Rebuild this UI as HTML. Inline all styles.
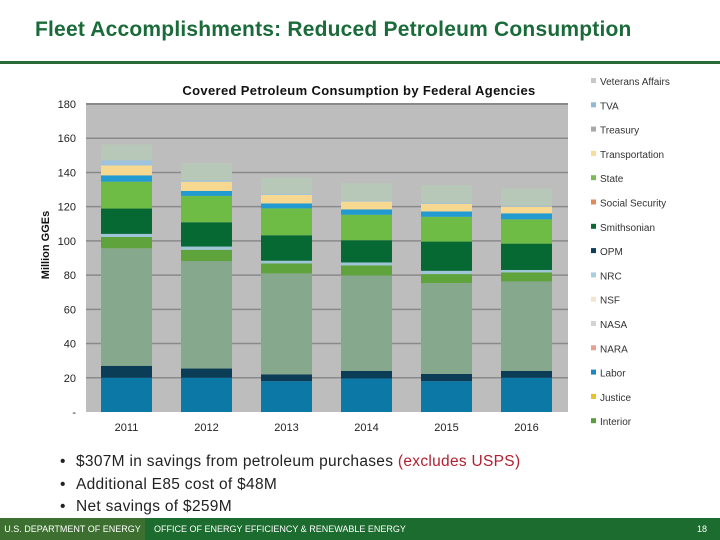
<!DOCTYPE html>
<html><head><meta charset="utf-8"><style>
body{margin:0;width:720px;height:540px;background:#fff;position:relative;overflow:hidden;font-family:"Liberation Sans",sans-serif}
.abs{position:absolute}
</style></head><body>
<div class="abs" style="left:35px;top:18px;font-size:21px;font-weight:bold;color:#1b6b3a;letter-spacing:0.2px;white-space:nowrap">Fleet Accomplishments: Reduced Petroleum Consumption</div>
<div class="abs" style="left:0;top:61px;width:720px;height:3px;background:#2a6a36"></div>
<svg class="abs" style="left:0;top:0" width="720" height="450">
<g id="g"></g>
</svg>
<div class="abs" style="left:60px;top:451px;font-size:15.5px;color:#222;line-height:22.5px;letter-spacing:0.3px;white-space:nowrap">
<div><span style="display:inline-block;width:16px">•</span>$307M in savings from petroleum purchases <span style="color:#b02030">(excludes USPS)</span></div>
<div><span style="display:inline-block;width:16px">•</span>Additional E85 cost of $48M</div>
<div><span style="display:inline-block;width:16px">•</span>Net savings of $259M</div>
</div>
<div class="abs" style="left:0;top:518px;width:145px;height:22px;background:#3d7030;color:#fff;font-size:9px;line-height:22px;text-align:center">U.S. DEPARTMENT OF ENERGY</div>
<div class="abs" style="left:145px;top:518px;width:575px;height:22px;background:#1c6b2f;color:#fff;font-size:9px;line-height:22px"><span style="margin-left:9px">OFFICE OF ENERGY EFFICIENCY &amp; RENEWABLE ENERGY</span><span style="position:absolute;right:13px">18</span></div>
<script>
const years=["2011","2012","2013","2014","2015","2016"];
const blueVals=[20,20,18,19.6,18,20];
const navyVals=[7,5.4,4,4.4,4.3,4];
const sageVals=[68.7,62.8,59,55.8,53.1,52.3];
const midGreenVals=[6.6,6.6,5.8,5.9,5.2,5.3];
const thinVals=[1.8,1.9,1.6,1.7,1.9,1.4];
const darkGreenVals=[14.8,14.2,14.9,13,17.1,15.4];
const lightGreenVals=[15.7,15.4,15.7,14.9,14.5,14.2];
const brightBlueVals=[3.7,2.9,2.9,3.1,3.1,3.5];
const yellowVals=[5.8,5.4,5,4.6,4.5,3.9];
const lightBlueVals=[3,0.8,0.6,0.5,0.6,0.6];
const paleVals=[9.2,10,9.5,10.3,10.3,10];
const yTicks=[0,20,40,60,80,100,120,140,160,180];
const legendNames=["Veterans Affairs","TVA","Treasury","Transportation","State","Social Security","Smithsonian","OPM","NRC","NSF","NASA","NARA","Labor","Justice","Interior"];
const legendColors=["#c8c8c8","#8fb8d4","#a8a8a8","#f6dd9c","#7cba5a","#e08a5a","#0a6b33","#0d3e5c","#a9cde0","#f3e6cc","#d3d3d3","#e8a090","#1e87bf","#e8c02a","#5d9e3c"];
const series=[
 {n:"labor",c:"#0b78a6",v:blueVals},
 {n:"opm",c:"#0b3d57",v:navyVals},
 {n:"defense",c:"#86a88c",v:sageVals},
 {n:"interior",c:"#5ea33b",v:midGreenVals},
 {n:"nrc",c:"#9fc6d8",v:thinVals},
 {n:"smithsonian",c:"#066833",v:darkGreenVals},
 {n:"state",c:"#6ebb45",v:lightGreenVals},
 {n:"tva",c:"#229bd0",v:brightBlueVals},
 {n:"transportation",c:"#f7d890",v:yellowVals},
 {n:"nasa",c:"#9ec3de",v:lightBlueVals},
 {n:"veterans-affairs",c:"#b8c8b8",v:paleVals}
];
const NS="http://www.w3.org/2000/svg";
const g=document.getElementById('g');
const X0=86,X1=568,Y0=412,YT=104;
const y=v=>Y0-(v/180)*(Y0-YT);
const xc=i=>126.5+i*80;
function el(t,a,txt){const e=document.createElementNS(NS,t);for(const k in a)e.setAttribute(k,a[k]);if(txt!=null)e.textContent=txt;g.appendChild(e);return e;}
let r=el('rect',{x:X0,y:YT,width:X1-X0,height:Y0-YT,fill:"#bdbdbd"});


yTicks.forEach(t=>{
 if(t>0){const l=el('line',{x1:X0,x2:X1,y1:y(t),y2:y(t),stroke:"#8a8a8a","stroke-width":t==180?2:1.5});
 
 }
 const tx=el('text',{x:76,y:y(t)+4,"text-anchor":"end","font-size":11,fill:"#222"},t==0?"-":String(t));
 
 
});
years.forEach((yr,i)=>{
 let cum=0;
 series.forEach(s=>{
  const v=s.v[i];
  const b=el('rect',{x:xc(i)-25.5,y:y(cum+v),width:51,height:y(cum)-y(cum+v),fill:s.c});
  
  
  cum+=v;
 });
 const t=el('text',{x:xc(i),y:431,"text-anchor":"middle","font-size":11,fill:"#222"},yr);
 
 
});
let ct=el('text',{x:359,y:95,"text-anchor":"middle","font-size":13,"font-weight":"bold",fill:"#111","letter-spacing":"0.35"},"Covered Petroleum Consumption by Federal Agencies");


let yt=el('text',{x:0,y:0,"text-anchor":"middle","font-size":11,"font-weight":"bold",fill:"#111",transform:"translate(49,245) rotate(-90)"},"Million GGEs");


legendNames.forEach((n,i)=>{
 const yy=82+i*24.3;
 const m=el('rect',{x:591,y:yy-4,width:5,height:5,fill:legendColors[i]});
 
 
 const t=el('text',{x:600,y:yy+3,"font-size":10,fill:"#333"},n);
 
 
});
</script>
</body></html>
